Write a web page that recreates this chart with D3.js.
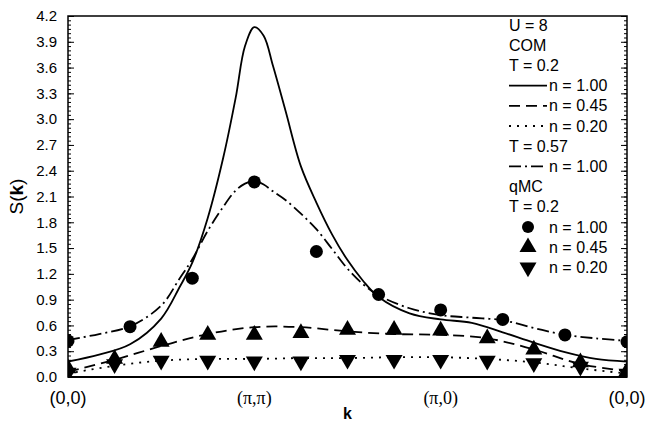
<!DOCTYPE html>
<html>
<head>
<meta charset="utf-8">
<script src="https://cdn.jsdelivr.net/npm/d3@7"></script>
<style>
  body { margin: 0; background: #fff; }
  text { font-family: "Liberation Sans", Arial, sans-serif; fill: #000; }
</style>
</head>
<body>
<div id="chart"></div>
<script>
// k-path position: 0 = (0,0), 1 = (pi,pi), 2 = (pi,0), 3 = (0,0)
const kTicks = [0, 1, 2, 3]
const kLabels = ['(0,0)', '(\u03c0,\u03c0)', '(\u03c0,0)', '(0,0)']
const yTicks = [0, 0.3, 0.6, 0.9, 1.2, 1.5, 1.8, 2.1, 2.4, 2.7, 3.0, 3.3, 3.6, 3.9, 4.2]

// COM curves, n = 1.00 (T = 0.2 and T = 0.57)
const comK = [0, 0.167, 0.333, 0.5, 0.6, 0.667, 0.75, 0.833, 0.9, 0.95, 1.0, 1.05, 1.1, 1.167,
  1.25, 1.333, 1.417, 1.5, 1.583, 1.667, 1.833, 2.0, 2.167, 2.333, 2.5, 2.667, 2.833, 3.0]
const comN100 = [0.18, 0.26, 0.38, 0.68, 1.05, 1.33, 1.85, 2.55, 3.25, 3.85, 4.07, 3.97, 3.62, 3.10,
  2.45, 2.03, 1.66, 1.36, 1.12, 0.93, 0.74, 0.67, 0.63, 0.52, 0.40, 0.29, 0.21, 0.18]
const comN100T057 = [0.43, 0.50, 0.59, 0.83, 1.15, 1.37, 1.70, 1.98, 2.17, 2.25, 2.28, 2.24, 2.16, 2.06,
  1.90, 1.72, 1.49, 1.26, 1.08, 0.95, 0.80, 0.72, 0.69, 0.66, 0.57, 0.49, 0.45, 0.42]

// COM curves, n = 0.45 and n = 0.20 (T = 0.2)
const comKq = [0, 0.25, 0.5, 0.75, 1.0, 1.25, 1.5, 1.75, 2.0, 2.25, 2.5, 2.75, 3.0]
const comN045 = [0.06, 0.20, 0.36, 0.50, 0.58, 0.58, 0.53, 0.50, 0.49, 0.45, 0.32, 0.15, 0.07]
const comN020 = [0.04, 0.13, 0.19, 0.21, 0.21, 0.22, 0.22, 0.23, 0.23, 0.21, 0.17, 0.10, 0.04]

// qMC points
const qmcK3 = [0, 0.333, 0.667, 1.0, 1.333, 1.667, 2.0, 2.333, 2.667, 3.0]
const qmcN100 = [0.42, 0.585, 1.15, 2.27, 1.46, 0.96, 0.78, 0.67, 0.49, 0.41]
const qmcK4 = [0, 0.25, 0.5, 0.75, 1.0, 1.25, 1.5, 1.75, 2.0, 2.25, 2.5, 2.75, 3.0]
const qmcN045 = [0.10, 0.21, 0.41, 0.49, 0.49, 0.51, 0.55, 0.55, 0.54, 0.45, 0.32, 0.17, 0.07]
const qmcN020 = [0.05, 0.15, 0.19, 0.19, 0.18, 0.18, 0.20, 0.20, 0.20, 0.19, 0.16, 0.12, 0.04]

const width = 645, height = 423
const mLeft = 68, mRight = 627, mTop = 16, mBottom = 377

const x = d3.scaleLinear().domain([0, 3]).range([mLeft, mRight])
const y = d3.scaleLinear().domain([0, 4.2]).range([mBottom, mTop])

const svg = d3.select('#chart').append('svg')
  .attr('width', width).attr('height', height)

svg.append('defs').append('clipPath').attr('id', 'plot')
  .append('rect').attr('x', mLeft).attr('y', mTop)
  .attr('width', mRight - mLeft).attr('height', mBottom - mTop)

const line = d3.line().x(d => x(d[0])).y(d => y(d[1])).curve(d3.curveCatmullRom.alpha(0.5))
const zip = (ks, vs) => ks.map((k, i) => [k, vs[i]])

const curves = [
  {data: zip(comK, comN100), dash: null},
  {data: zip(comKq, comN045), dash: '11,6'},
  {data: zip(comKq, comN020), dash: '2,6'},
  {data: zip(comK, comN100T057), dash: '12,4,2,4'}
]

const plot = svg.append('g').attr('clip-path', 'url(#plot)')
plot.selectAll('path.curve').data(curves).join('path')
  .attr('class', 'curve')
  .attr('d', d => line(d.data))
  .attr('fill', 'none').attr('stroke', '#000').attr('stroke-width', 1.8)
  .attr('stroke-dasharray', d => d.dash)

const tri = d3.symbol().type(d3.symbolTriangle).size(125)

plot.selectAll('path.up').data(zip(qmcK4, qmcN045)).join('path')
  .attr('class', 'up')
  .attr('transform', d => `translate(${x(d[0])},${y(d[1])})`)
  .attr('d', tri)
plot.selectAll('path.down').data(zip(qmcK4, qmcN020)).join('path')
  .attr('class', 'down')
  .attr('transform', d => `translate(${x(d[0])},${y(d[1])}) rotate(180)`)
  .attr('d', tri)
plot.selectAll('circle').data(zip(qmcK3, qmcN100)).join('circle')
  .attr('cx', d => x(d[0])).attr('cy', d => y(d[1])).attr('r', 6.5)

// frame
svg.append('rect').attr('x', mLeft).attr('y', mTop)
  .attr('width', mRight - mLeft).attr('height', mBottom - mTop)
  .attr('fill', 'none').attr('stroke', '#000').attr('stroke-width', 1.5)
svg.append('line').attr('x1', mLeft).attr('x2', mRight).attr('y1', mBottom).attr('y2', mBottom)
  .attr('stroke', '#000').attr('stroke-width', 2.2)

// y axes, ticks inward on both sides
const minor = d3.range(0, 4.2001, 0.05)
svg.append('g').attr('transform', `translate(${mLeft},0)`)
  .call(d3.axisRight(y).tickValues(minor).tickSize(3).tickFormat(''))
svg.append('g').attr('transform', `translate(${mLeft},0)`)
  .call(d3.axisRight(y).tickValues(yTicks).tickSize(6).tickFormat(''))
svg.append('g').attr('transform', `translate(${mRight},0)`)
  .call(d3.axisLeft(y).tickValues(minor).tickSize(3).tickFormat(''))
svg.append('g').attr('transform', `translate(${mRight},0)`)
  .call(d3.axisLeft(y).tickValues(yTicks).tickSize(6).tickFormat(''))
svg.selectAll('.domain').remove()
svg.selectAll('.tick line').attr('stroke', '#000').attr('stroke-width', 1)

svg.selectAll('text.ylab').data(yTicks).join('text')
  .attr('class', 'ylab')
  .attr('x', mLeft - 11).attr('y', d => y(d))
  .attr('dy', '0.35em').attr('text-anchor', 'end')
  .style('font-size', '15px')
  .text(d => d.toFixed(1))

svg.selectAll('text.xlab').data(kTicks).join('text')
  .attr('class', 'xlab')
  .attr('x', d => x(d)).attr('y', 398)
  .attr('dy', '0.35em').attr('text-anchor', 'middle')
  .style('font-size', '18px')
  .style('font-family', (d, i) => (i === 1 || i === 2) ? '"Liberation Serif", "Times New Roman", serif' : null)
  .text((d, i) => kLabels[i])

svg.append('text').attr('x', (mLeft + mRight) / 2).attr('y', 413)
  .attr('dy', '0.35em').attr('text-anchor', 'middle')
  .style('font-size', '16px').style('font-weight', 'bold').text('k')

const yl = svg.append('text')
  .attr('transform', `translate(23,${(mTop + mBottom) / 2}) rotate(-90)`)
  .attr('text-anchor', 'middle').style('font-size', '19px')
yl.append('tspan').text('S(')
yl.append('tspan').style('font-weight', 'bold').text('k')
yl.append('tspan').text(')')

// legend
const legendRows = [
  {label: 'U = 8'}, {label: 'COM'}, {label: 'T = 0.2'},
  {label: 'n = 1.00', dash: 'none'}, {label: 'n = 0.45', dash: '11,6'},
  {label: 'n = 0.20', dash: '2,6'}, {label: 'T = 0.57'},
  {label: 'n = 1.00', dash: '12,4,2,4'}, {label: 'qMC'}, {label: 'T = 0.2'},
  {label: 'n = 1.00', sym: 'circle'}, {label: 'n = 0.45', sym: 'up'},
  {label: 'n = 0.20', sym: 'down'}
]
const lx = 509, ly = 25, lstep = 20.2
const lg = svg.append('g')
legendRows.forEach((r, i) => {
  const cy = ly + i * lstep
  const hasKey = r.dash || r.sym
  lg.append('text').attr('x', hasKey ? lx + 40 : lx).attr('y', cy)
    .attr('dy', '0.35em').style('font-size', '16px').text(r.label)
  if (r.dash) {
    lg.append('line').attr('x1', lx).attr('x2', lx + 38).attr('y1', cy).attr('y2', cy)
      .attr('stroke', '#000').attr('stroke-width', 1.8)
      .attr('stroke-dasharray', r.dash === 'none' ? null : r.dash)
  }
  if (r.sym === 'circle') {
    lg.append('circle').attr('cx', lx + 19).attr('cy', cy).attr('r', 6)
  } else if (r.sym === 'up') {
    lg.append('path').attr('transform', `translate(${lx + 19},${cy})`).attr('d', tri)
  } else if (r.sym === 'down') {
    lg.append('path').attr('transform', `translate(${lx + 19},${cy}) rotate(180)`).attr('d', tri)
  }
})
</script>
</body>
</html>
